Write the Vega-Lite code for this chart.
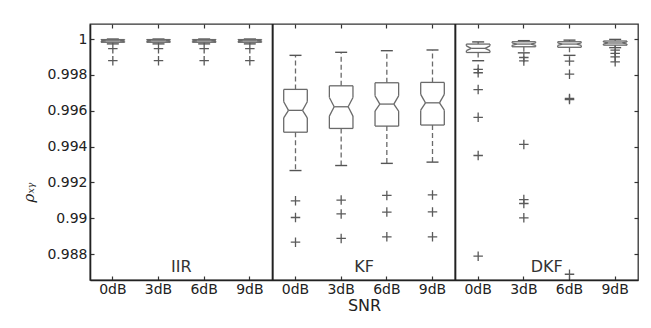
{
  "$schema": "https://vega.github.io/schema/vega-lite/v6.json",
  "width": 548,
  "height": 256,
  "autosize": {"type": "none"},
  "padding": {"left": 90, "top": 24, "right": 13, "bottom": 48},
  "background": "white",
  "config": {
    "view": {"stroke": "#333", "strokeWidth": 1.3},
    "axis": {
      "grid": false,
      "domainColor": "#222",
      "domainWidth": 1.6,
      "tickColor": "#333",
      "tickWidth": 1.2,
      "tickSize": -4,
      "labelColor": "#222",
      "labelFont": "DejaVu Sans",
      "labelFontSize": 14,
      "titleColor": "#222",
      "titleFontWeight": "normal"
    }
  },
  "datasets": {
    "boxes": [
      {"key": "IIR|0dB", "uw": 1.0, "q3": 0.99997, "nhi": 0.99994, "med": 0.9999, "nlo": 0.99986, "q1": 0.99982, "lw": 0.99973},
      {"key": "IIR|3dB", "uw": 1.0, "q3": 0.99997, "nhi": 0.99994, "med": 0.9999, "nlo": 0.99986, "q1": 0.99982, "lw": 0.99973},
      {"key": "IIR|6dB", "uw": 1.0, "q3": 0.99997, "nhi": 0.99994, "med": 0.9999, "nlo": 0.99986, "q1": 0.99982, "lw": 0.99973},
      {"key": "IIR|9dB", "uw": 1.0, "q3": 0.99997, "nhi": 0.99994, "med": 0.9999, "nlo": 0.99986, "q1": 0.99982, "lw": 0.99973},
      {"key": "KF|0dB", "uw": 0.99909, "q3": 0.99719, "nhi": 0.9965, "med": 0.99602, "nlo": 0.9956, "q1": 0.9948, "lw": 0.99266},
      {"key": "KF|3dB", "uw": 0.99926, "q3": 0.99739, "nhi": 0.99674, "med": 0.99622, "nlo": 0.9957, "q1": 0.99501, "lw": 0.99294},
      {"key": "KF|6dB", "uw": 0.99935, "q3": 0.99756, "nhi": 0.99683, "med": 0.99637, "nlo": 0.99598, "q1": 0.99514, "lw": 0.99306},
      {"key": "KF|9dB", "uw": 0.99939, "q3": 0.99758, "nhi": 0.99691, "med": 0.99644, "nlo": 0.99603, "q1": 0.9952, "lw": 0.99313},
      {"key": "DKF|0dB", "uw": 0.99984, "q3": 0.99972, "nhi": 0.99962, "med": 0.99948, "nlo": 0.99935, "q1": 0.99925, "lw": 0.99879},
      {"key": "DKF|3dB", "uw": 0.99991, "q3": 0.99985, "nhi": 0.99979, "med": 0.99972, "nlo": 0.99965, "q1": 0.99957, "lw": 0.99923},
      {"key": "DKF|6dB", "uw": 0.99994, "q3": 0.99985, "nhi": 0.99979, "med": 0.99972, "nlo": 0.99964, "q1": 0.99954, "lw": 0.99909},
      {"key": "DKF|9dB", "uw": 0.99998, "q3": 0.99989, "nhi": 0.99984, "med": 0.99978, "nlo": 0.99972, "q1": 0.99966, "lw": 0.99952}
    ],
    "outliers": [
      {"key": "IIR|0dB", "v": 0.99946}, {"key": "IIR|0dB", "v": 0.99879},
      {"key": "IIR|3dB", "v": 0.99946}, {"key": "IIR|3dB", "v": 0.99879},
      {"key": "IIR|6dB", "v": 0.99946}, {"key": "IIR|6dB", "v": 0.99879},
      {"key": "IIR|9dB", "v": 0.99946}, {"key": "IIR|9dB", "v": 0.99879},
      {"key": "KF|0dB", "v": 0.99097}, {"key": "KF|0dB", "v": 0.99004}, {"key": "KF|0dB", "v": 0.98866},
      {"key": "KF|3dB", "v": 0.99101}, {"key": "KF|3dB", "v": 0.99024}, {"key": "KF|3dB", "v": 0.98887},
      {"key": "KF|6dB", "v": 0.99127}, {"key": "KF|6dB", "v": 0.99034}, {"key": "KF|6dB", "v": 0.98896},
      {"key": "KF|9dB", "v": 0.9913}, {"key": "KF|9dB", "v": 0.99035}, {"key": "KF|9dB", "v": 0.98896},
      {"key": "DKF|0dB", "v": 0.99831}, {"key": "DKF|0dB", "v": 0.99812}, {"key": "DKF|0dB", "v": 0.99718},
      {"key": "DKF|0dB", "v": 0.99563}, {"key": "DKF|0dB", "v": 0.9935}, {"key": "DKF|0dB", "v": 0.98788},
      {"key": "DKF|3dB", "v": 0.99897}, {"key": "DKF|3dB", "v": 0.99878}, {"key": "DKF|3dB", "v": 0.99412},
      {"key": "DKF|3dB", "v": 0.99104}, {"key": "DKF|3dB", "v": 0.99082}, {"key": "DKF|3dB", "v": 0.99002},
      {"key": "DKF|6dB", "v": 0.99877}, {"key": "DKF|6dB", "v": 0.99804}, {"key": "DKF|6dB", "v": 0.99668},
      {"key": "DKF|6dB", "v": 0.99662}, {"key": "DKF|6dB", "v": 0.98687},
      {"key": "DKF|9dB", "v": 0.99938}, {"key": "DKF|9dB", "v": 0.9992}, {"key": "DKF|9dB", "v": 0.999},
      {"key": "DKF|9dB", "v": 0.99873}
    ],
    "dividers": [{"key": "KF|0dB"}, {"key": "DKF|0dB"}],
    "panels": [
      {"panel": "IIR", "key": "IIR|3dB"},
      {"panel": "KF", "key": "KF|3dB"},
      {"panel": "DKF", "key": "DKF|3dB"}
    ]
  },
  "resolve": {"axis": {"x": "independent", "y": "independent"}},
  "layer": [
    {
      "data": {"name": "boxes"},
      "mark": {"type": "rule", "stroke": "#6a6a6a", "strokeWidth": 1.3, "strokeDash": [5, 3]},
      "encoding": {
        "x": {
          "field": "key", "type": "nominal",
          "scale": {"domain": ["IIR|0dB", "IIR|3dB", "IIR|6dB", "IIR|9dB", "KF|0dB", "KF|3dB", "KF|6dB", "KF|9dB", "DKF|0dB", "DKF|3dB", "DKF|6dB", "DKF|9dB"], "paddingInner": 0, "paddingOuter": 0},
          "axis": {"orient": "bottom", "labelExpr": "split(datum.label, '|')[1]", "labelPadding": 6, "title": "SNR", "titleFont": "DejaVu Sans", "titleFontSize": 16, "titlePadding": 1, "labelAngle": 0}
        },
        "y": {
          "field": "q3", "type": "quantitative",
          "scale": {"domain": [0.98655, 1.00084], "nice": false, "zero": false},
          "axis": {"orient": "left", "values": [0.988, 0.99, 0.992, 0.994, 0.996, 0.998, 1], "format": "~g", "labelPadding": 7, "title": "ρₓᵧ", "titleFont": "DejaVu Serif", "titleFontStyle": "italic", "titleFontSize": 15, "titlePadding": 10, "titleY": 168}
        },
        "y2": {"field": "uw"}
      }
    },
    {
      "data": {"name": "boxes"},
      "mark": {"type": "rule", "stroke": "#6a6a6a", "strokeWidth": 1.3, "strokeDash": [5, 3]},
      "encoding": {
        "x": {"field": "key", "type": "nominal", "axis": {"orient": "top", "labels": false, "title": null, "domain": false}},
        "y": {"field": "q1", "type": "quantitative", "axis": {"orient": "right", "labels": false, "title": null, "domain": false, "values": [0.988, 0.99, 0.992, 0.994, 0.996, 0.998, 1]}},
        "y2": {"field": "lw"}
      }
    },
    {
      "data": {"name": "boxes"},
      "mark": {"type": "rule", "stroke": "#555", "strokeWidth": 1.4, "xOffset": -6, "x2Offset": 6},
      "encoding": {"x": {"field": "key", "type": "nominal", "axis": null}, "x2": {"field": "key"}, "y": {"field": "uw", "type": "quantitative", "axis": null}}
    },
    {
      "data": {"name": "boxes"},
      "mark": {"type": "rule", "stroke": "#555", "strokeWidth": 1.4, "xOffset": -6, "x2Offset": 6},
      "encoding": {"x": {"field": "key", "type": "nominal", "axis": null}, "x2": {"field": "key"}, "y": {"field": "lw", "type": "quantitative", "axis": null}}
    },
    {
      "data": {"name": "boxes"},
      "mark": {"type": "rule", "stroke": "#6a6a6a", "strokeWidth": 1.3, "xOffset": -11.8, "x2Offset": 11.8},
      "encoding": {"x": {"field": "key", "type": "nominal", "axis": null}, "x2": {"field": "key"}, "y": {"field": "q3", "type": "quantitative", "axis": null}}
    },
    {
      "data": {"name": "boxes"},
      "mark": {"type": "rule", "stroke": "#6a6a6a", "strokeWidth": 1.3, "xOffset": -11.8, "x2Offset": 11.8},
      "encoding": {"x": {"field": "key", "type": "nominal", "axis": null}, "x2": {"field": "key"}, "y": {"field": "q1", "type": "quantitative", "axis": null}}
    },
    {
      "data": {"name": "boxes"},
      "mark": {"type": "rule", "stroke": "#6a6a6a", "strokeWidth": 1.3, "xOffset": -7, "x2Offset": 7},
      "encoding": {"x": {"field": "key", "type": "nominal", "axis": null}, "x2": {"field": "key"}, "y": {"field": "med", "type": "quantitative", "axis": null}}
    },
    {
      "data": {"name": "boxes"},
      "mark": {"type": "rule", "stroke": "#6a6a6a", "strokeWidth": 1.3, "xOffset": -11.8},
      "encoding": {"x": {"field": "key", "type": "nominal", "axis": null}, "y": {"field": "q3", "type": "quantitative", "axis": null}, "y2": {"field": "nhi"}}
    },
    {
      "data": {"name": "boxes"},
      "mark": {"type": "rule", "stroke": "#6a6a6a", "strokeWidth": 1.3, "xOffset": 11.8},
      "encoding": {"x": {"field": "key", "type": "nominal", "axis": null}, "y": {"field": "q3", "type": "quantitative", "axis": null}, "y2": {"field": "nhi"}}
    },
    {
      "data": {"name": "boxes"},
      "mark": {"type": "rule", "stroke": "#6a6a6a", "strokeWidth": 1.3, "xOffset": -11.8},
      "encoding": {"x": {"field": "key", "type": "nominal", "axis": null}, "y": {"field": "nlo", "type": "quantitative", "axis": null}, "y2": {"field": "q1"}}
    },
    {
      "data": {"name": "boxes"},
      "mark": {"type": "rule", "stroke": "#6a6a6a", "strokeWidth": 1.3, "xOffset": 11.8},
      "encoding": {"x": {"field": "key", "type": "nominal", "axis": null}, "y": {"field": "nlo", "type": "quantitative", "axis": null}, "y2": {"field": "q1"}}
    },
    {
      "data": {"name": "boxes"},
      "mark": {"type": "rule", "stroke": "#6a6a6a", "strokeWidth": 1.3, "xOffset": -11.8, "x2Offset": -7},
      "encoding": {"x": {"field": "key", "type": "nominal", "axis": null}, "x2": {"field": "key"}, "y": {"field": "nhi", "type": "quantitative", "axis": null}, "y2": {"field": "med"}}
    },
    {
      "data": {"name": "boxes"},
      "mark": {"type": "rule", "stroke": "#6a6a6a", "strokeWidth": 1.3, "xOffset": 11.8, "x2Offset": 7},
      "encoding": {"x": {"field": "key", "type": "nominal", "axis": null}, "x2": {"field": "key"}, "y": {"field": "nhi", "type": "quantitative", "axis": null}, "y2": {"field": "med"}}
    },
    {
      "data": {"name": "boxes"},
      "mark": {"type": "rule", "stroke": "#6a6a6a", "strokeWidth": 1.3, "xOffset": -11.8, "x2Offset": -7},
      "encoding": {"x": {"field": "key", "type": "nominal", "axis": null}, "x2": {"field": "key"}, "y": {"field": "nlo", "type": "quantitative", "axis": null}, "y2": {"field": "med"}}
    },
    {
      "data": {"name": "boxes"},
      "mark": {"type": "rule", "stroke": "#6a6a6a", "strokeWidth": 1.3, "xOffset": 11.8, "x2Offset": 7},
      "encoding": {"x": {"field": "key", "type": "nominal", "axis": null}, "x2": {"field": "key"}, "y": {"field": "nlo", "type": "quantitative", "axis": null}, "y2": {"field": "med"}}
    },
    {
      "data": {"name": "outliers"},
      "mark": {"type": "point", "shape": "M-1,0H1M0,-1V1", "size": 90, "filled": false, "stroke": "#5a5a5a", "strokeWidth": 1.3, "opacity": 1},
      "encoding": {"x": {"field": "key", "type": "nominal", "axis": null}, "y": {"field": "v", "type": "quantitative", "axis": null}}
    },
    {
      "data": {"name": "dividers"},
      "mark": {"type": "rule", "stroke": "#222", "strokeWidth": 2},
      "encoding": {"x": {"field": "key", "type": "nominal", "axis": null, "bandPosition": 0}}
    },
    {
      "data": {"name": "panels"},
      "mark": {"type": "text", "font": "DejaVu Sans", "fontSize": 16, "color": "#333", "baseline": "middle", "align": "center"},
      "encoding": {
        "x": {"field": "key", "type": "nominal", "axis": null, "bandPosition": 1},
        "y": {"datum": 0.9873, "type": "quantitative", "axis": null},
        "text": {"field": "panel"}
      }
    }
  ]
}
